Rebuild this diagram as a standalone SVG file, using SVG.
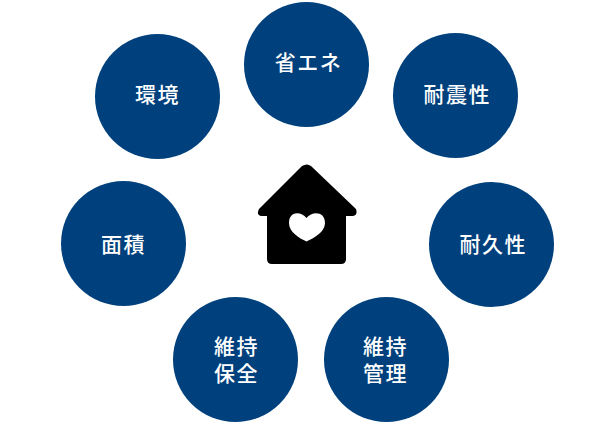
<svg xmlns="http://www.w3.org/2000/svg" width="600" height="430" viewBox="0 0 600 430">
<style>
.c{fill:#00407c}
.t{fill:#fff;font-family:"Noto Sans CJK JP","Noto Sans",sans-serif;font-size:21px;font-weight:500;text-anchor:middle;letter-spacing:1.5px}
</style>
<rect width="600" height="430" fill="#fff"/>
<g id="shou-ene"><circle class="c" cx="306.500" cy="64.500" r="62.500"/><text class="t" x="308.500" y="70">省エネ</text></g>
<g id="taishin"><circle class="c" cx="455.500" cy="95.500" r="62.500"/><text class="t" x="457.200" y="102">耐震性</text></g>
<g id="taikyu"><circle class="c" cx="491.500" cy="244.500" r="62.500"/><text class="t" x="493.200" y="251.500">耐久性</text></g>
<g id="iji-kanri"><circle class="c" cx="386.500" cy="359.500" r="62.500"/><text class="t" x="385.500" y="353.500">維持</text><text class="t" x="385.500" y="381">管理</text></g>
<g id="iji-hozen"><circle class="c" cx="235.500" cy="359.500" r="62.500"/><text class="t" x="236.500" y="353.500">維持</text><text class="t" x="236.500" y="381">保全</text></g>
<g id="menseki"><circle class="c" cx="123.500" cy="243.500" r="62.500"/><text class="t" x="123.500" y="251.500">面積</text></g>
<g id="kankyo"><circle class="c" cx="157.500" cy="96.500" r="62.500"/><text class="t" x="157.500" y="102">環境</text></g>
<g id="house">
<path fill="#000" fill-rule="evenodd" d="M302 166Q307 163 311 166L356 209Q358 215 353 216H346V259Q346 264 341 264H272Q267 264 267 259V216H261Q256 215 259 209ZM306.500 218C301 211 289 211 289 223C289 232 299 238 306.500 241.500C314 238 325 232 325 223C325 211 312 211 306.500 218Z"/>
</g>
<g id="connectors"/>
</svg>
